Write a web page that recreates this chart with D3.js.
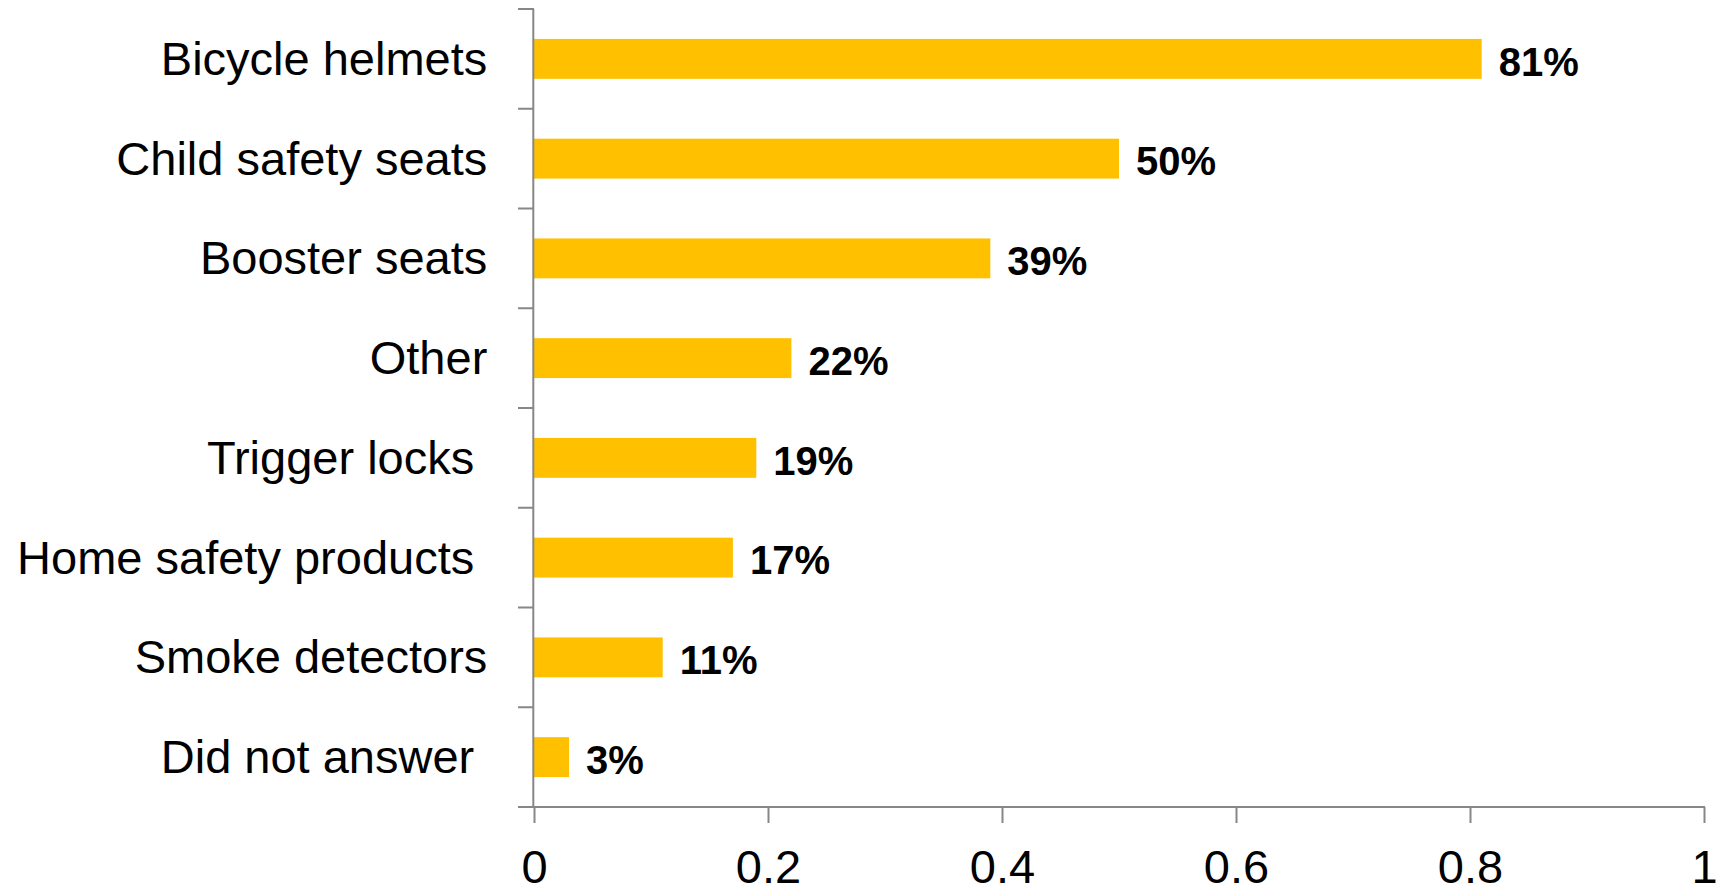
<!DOCTYPE html>
<html>
<head>
<meta charset="utf-8">
<script src="https://cdn.jsdelivr.net/npm/d3@7"></script>
<style>
  html, body { margin: 0; padding: 0; background: #fff; }
  svg { display: block; }
  text { white-space: pre; }
</style>
</head>
<body>
<div id="chart"></div>
<script>
// Share of respondents by product type
const categories = [
  "Bicycle helmets",
  "Child safety seats",
  "Booster seats",
  "Other",
  "Trigger locks ",
  "Home safety products ",
  "Smoke detectors",
  "Did not answer "
];
const values = [0.81, 0.50, 0.39, 0.22, 0.19, 0.17, 0.11, 0.03];
const valueLabels = ["81%", "50%", "39%", "22%", "19%", "17%", "11%", "3%"];
const xTicks = [0, 0.2, 0.4, 0.6, 0.8, 1];
const xTickLabels = ["0", "0.2", "0.4", "0.6", "0.8", "1"];

const W = 1728, H = 892;
const margin = { top: 9, right: 24, bottom: 85, left: 534 };
const axisColor = "#878787";
const barColor = "#FFC000";
const font = "'Liberation Sans', Arial, sans-serif";

const svg = d3.select("#chart").append("svg")
  .attr("width", W).attr("height", H);

const x = d3.scaleLinear().domain([0, 1]).range([margin.left, W - margin.right]);
const y = d3.scaleBand().domain(categories)
  .range([margin.top, H - margin.bottom])
  .paddingInner(0.6).paddingOuter(0.3);

const rows = categories.map((c, i) => ({ cat: c, v: values[i], label: valueLabels[i] }));

// bars
svg.append("g").selectAll("rect").data(rows).join("rect")
  .attr("x", x(0))
  .attr("y", d => y(d.cat))
  .attr("width", d => x(d.v) - x(0))
  .attr("height", y.bandwidth())
  .attr("fill", barColor);

// value labels
svg.append("g").selectAll("text").data(rows).join("text")
  .attr("x", d => x(d.v) + 17)
  .attr("y", d => y(d.cat) + y.bandwidth() / 2)
  .attr("dy", "0.42em")
  .attr("font-family", font)
  .attr("font-weight", "bold")
  .attr("font-size", 40)
  .attr("fill", "#000")
  .text(d => d.label);

// x axis
const xAxis = svg.append("g")
  .attr("transform", `translate(0,${H - margin.bottom})`)
  .call(d3.axisBottom(x).tickValues(xTicks).tickSize(16).tickSizeOuter(0)
    .tickFormat((d, i) => xTickLabels[i]));
xAxis.select(".domain").remove();
xAxis.selectAll(".tick line").attr("stroke", axisColor).attr("stroke-width", 2);
xAxis.selectAll(".tick text")
  .attr("y", 76).attr("dy", 0)
  .attr("font-family", font).attr("font-size", 47).attr("fill", "#000");

// y axis category labels
const yAxis = svg.append("g")
  .attr("transform", `translate(${x(0) - 0.7},0)`)
  .call(d3.axisLeft(y).tickSize(0).tickPadding(46));
yAxis.select(".domain").remove();
yAxis.selectAll(".tick text")
  .attr("font-family", font).attr("font-size", 47).attr("fill", "#000")
  .attr("dy", "0.34em");

// band boundary ticks on the category axis
const step = y.step();
const bounds = categories.map(c => y(c) - step * y.paddingInner() / 2)
  .concat([y(categories[categories.length - 1]) + y.bandwidth() + step * y.paddingInner() / 2]);
svg.append("g").selectAll("line").data(bounds).join("line")
  .attr("x1", x(0) - 16).attr("x2", x(0))
  .attr("y1", d => d).attr("y2", d => d)
  .attr("stroke", axisColor).attr("stroke-width", 2);

// axis lines
svg.append("line")
  .attr("x1", x(0) - 0.7).attr("x2", x(0) - 0.7)
  .attr("y1", bounds[0]).attr("y2", bounds[bounds.length - 1])
  .attr("stroke", axisColor).attr("stroke-width", 2);
svg.append("line")
  .attr("x1", x(0) - 16).attr("x2", x(1) + 1)
  .attr("y1", H - margin.bottom).attr("y2", H - margin.bottom)
  .attr("stroke", axisColor).attr("stroke-width", 2);
</script>
</body>
</html>
